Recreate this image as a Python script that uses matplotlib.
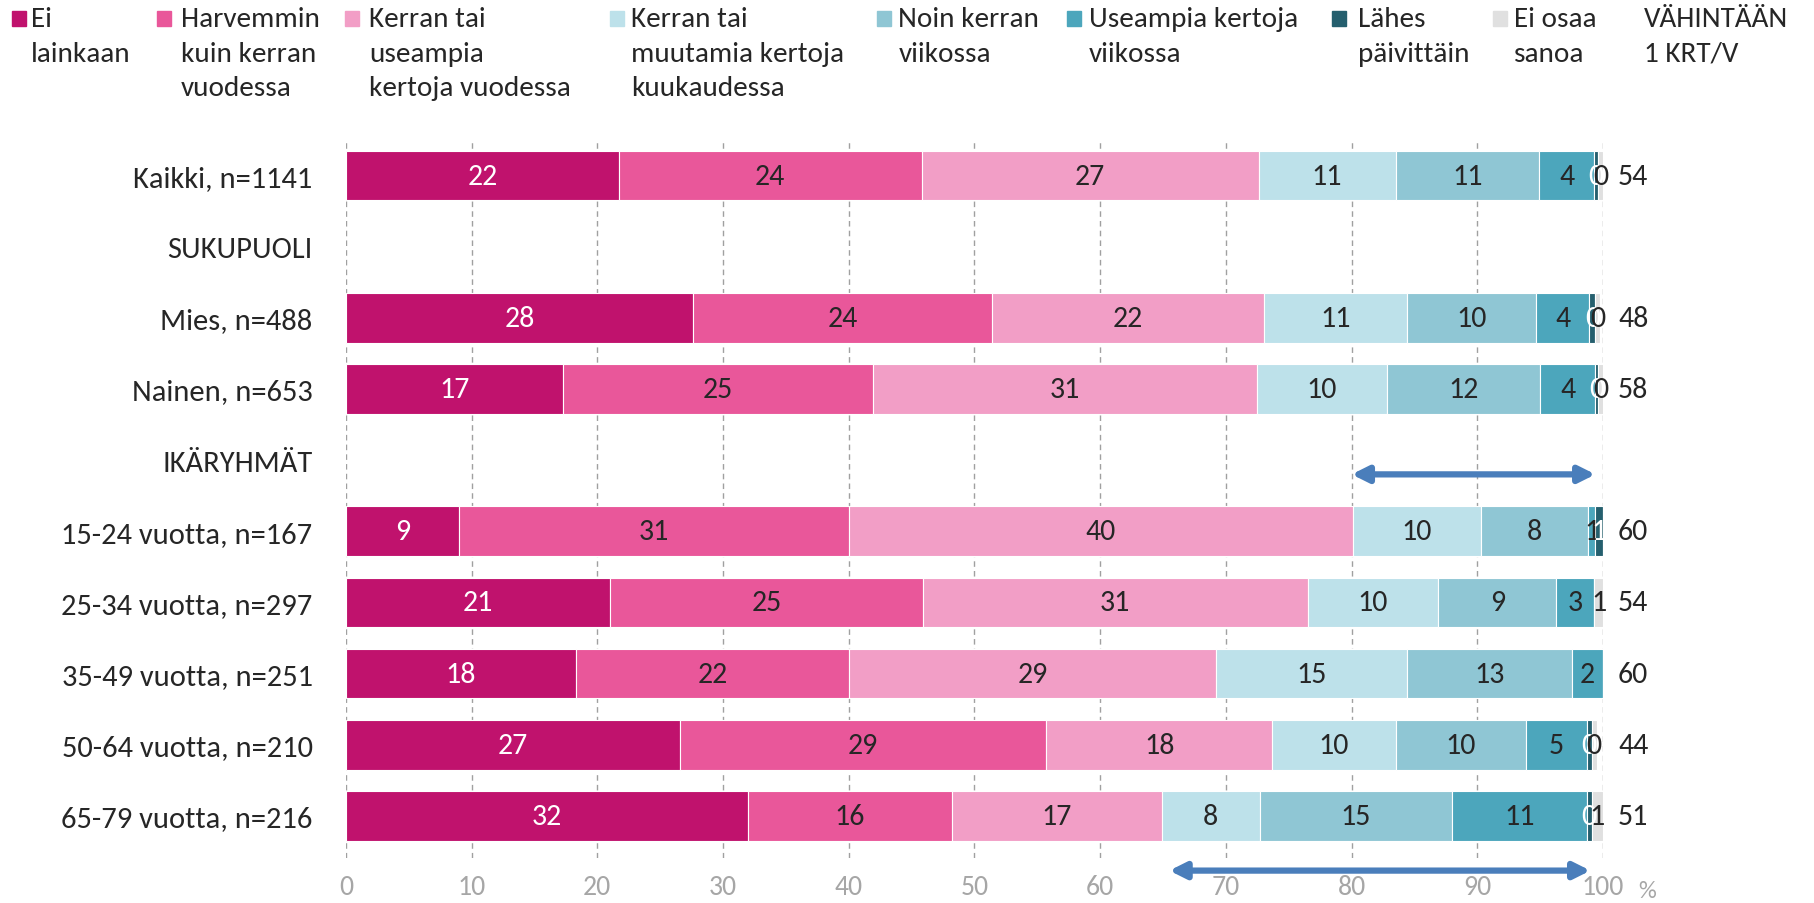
import matplotlib
matplotlib.use("Agg")
import matplotlib.pyplot as plt
from matplotlib.patches import Rectangle
import numpy as np

plt.rcParams['font.family'] = ['Carlito', 'Lato', 'DejaVu Sans']

categories = ["Ei\nlainkaan", "Harvemmin\nkuin kerran\nvuodessa", "Kerran tai\nuseampia\nkertoja vuodessa",
              "Kerran tai\nmuutamia kertoja\nkuukaudessa", "Noin kerran\nviikossa", "Useampia kertoja\nviikossa",
              "Lähes\npäivittäin", "Ei osaa\nsanoa"]
colors = ["#c0126d", "#e9579a", "#f29ec6", "#bde1ea", "#8fc6d4", "#4ca6bc", "#255f6e", "#e0e0e0"]
label_colors = ["white", "#262626", "#262626", "#262626", "#262626", "#262626", "white", "#262626"]

rows = ["Kaikki, n=1141", "SUKUPUOLI", "Mies, n=488", "Nainen, n=653", "IKÄRYHMÄT",
        "15-24 vuotta, n=167", "25-34 vuotta, n=297", "35-49 vuotta, n=251", "50-64 vuotta, n=210",
        "65-79 vuotta, n=216"]

ei_lainkaan = [21.7, None, 27.6, 17.3, None, 9.0, 21.0, 18.3, 26.6, 32.0]
harvemmin = [24.1, None, 23.8, 24.6, None, 31.0, 24.9, 21.7, 29.1, 16.2]
vuodessa = [26.8, None, 21.6, 30.6, None, 40.1, 30.6, 29.2, 18.0, 16.7]
kuukaudessa = [10.9, None, 11.4, 10.3, None, 10.2, 10.4, 15.2, 9.8, 7.8]
viikossa = [11.4, None, 10.3, 12.2, None, 8.5, 9.4, 13.1, 10.4, 15.3]
useampia_viikossa = [4.4, None, 4.2, 4.4, None, 0.6, 3.0, 2.5, 4.8, 10.7]
lahes_paivittain = [0.3, None, 0.5, 0.2, None, 0.6, 0.0, 0.0, 0.4, 0.4]
ei_osaa = [0.4, None, 0.4, 0.5, None, 0.0, 0.7, 0.0, 0.4, 0.9]
vahintaan = [54, None, 48, 58, None, 60, 54, 60, 44, 51]

series = [ei_lainkaan, harvemmin, vuodessa, kuukaudessa, viikossa, useampia_viikossa,
          lahes_paivittain, ei_osaa]
ticks = [0, 10, 20, 30, 40, 50, 60, 70, 80, 90, 100]

# annotation arrows (x-span, row position)
arrows = [((80, 99.4), 4.2), ((65.5, 99.0), 9.77)]

FS = 21
fig = plt.figure(figsize=(18.15, 9.04), dpi=100)
ax = fig.add_axes([0.1906, 0.050, 0.8832 - 0.1906, 0.844 - 0.050])

y = np.arange(len(rows))
left = np.zeros(len(rows))
for s, col, lc in zip(series, colors, label_colors):
    for i, v in enumerate(s):
        if v is None:
            continue
        ax.barh(y[i], v, left=left[i], height=0.70, color=col, edgecolor="white",
                linewidth=0.8, zorder=3)
        if v > 0:
            ax.text(left[i] + v / 2, y[i], f"{round(v):d}", ha="center", va="center",
                    color=lc, fontsize=FS + 0.5, zorder=5)
        left[i] += v

for i, v in enumerate(vahintaan):
    if v is not None:
        ax.text(101.2, y[i], f"{v}", ha="left", va="center", color="#262626", fontsize=FS + 0.5,
                clip_on=False)

ax.set_xlim(0, 100)
ax.set_ylim(9.59, -0.5)
ax.set_xticks(ticks)
ax.set_xticklabels([str(t) for t in ticks], color="#a6a6a6", fontsize=20)
ax.set_yticks(y)
ax.set_yticklabels(rows, fontsize=22, color="#262626")
ax.tick_params(axis="y", length=0, pad=24)
ax.tick_params(axis="x", length=0, pad=12)
for sp in ax.spines.values():
    sp.set_visible(False)
ax.grid(axis="x", color="#a0a0a0", linestyle=(0, (4, 3)), linewidth=1, zorder=0)
ax.set_axisbelow(True)

ax.text(102.8, 10.05, "%", color="#a6a6a6", fontsize=18, ha="left", va="center", clip_on=False)

for (x0, x1), yy in arrows:
    ax.annotate("", xy=(x1, yy), xytext=(x0, yy),
                arrowprops=dict(arrowstyle="<|-|>", color="#4a7ebb", lw=4.5, mutation_scale=24,
                                shrinkA=0, shrinkB=0),
                annotation_clip=False)

# legend
leg_sq_x = [10, 136, 298, 527, 758, 922, 1151, 1290]
leg_txt_x = [27, 156, 319, 545, 776, 941, 1173, 1308]
sc = 1815 / 1568
W, H = 1815, 904
for sx, tx, cat, col in zip(leg_sq_x, leg_txt_x, categories, colors):
    fig.patches.append(Rectangle((sx * sc / W, 1 - 27 / H), 14 / W, 15 / H,
                                 transform=fig.transFigure, color=col))
    fig.text(tx * sc / W, 1 - 7 / H, cat, ha="left", va="top", fontsize=FS,
             color="#262626", linespacing=1.48)
fig.text(1420 * sc / W, 1 - 7 / H, "VÄHINTÄÄN\n1 KRT/V", ha="left", va="top", fontsize=FS,
         color="#262626", linespacing=1.48)

fig.savefig("out.png", dpi=100, facecolor="white")
